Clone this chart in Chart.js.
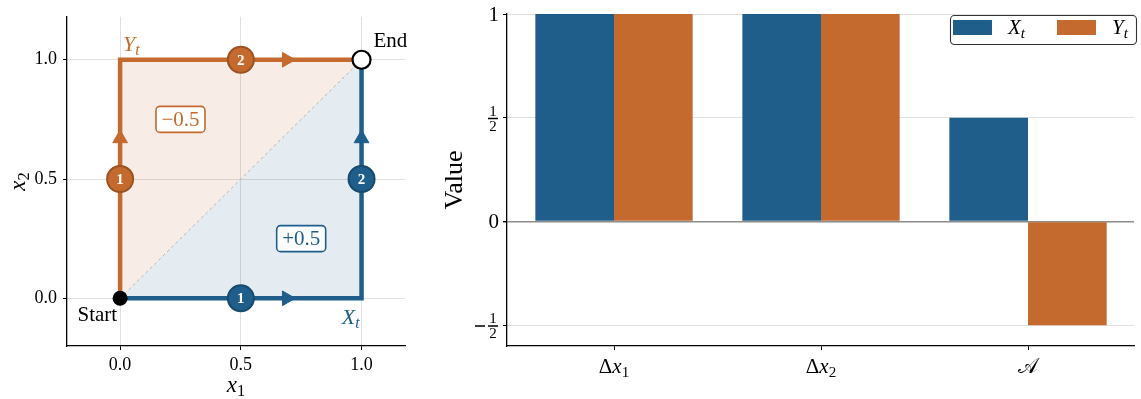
<!DOCTYPE html>
<html>
<head>
<meta charset="utf-8">
<script src="https://cdn.jsdelivr.net/npm/chart.js@4.4.1/dist/chart.umd.min.js"></script>
<style>
  html, body { margin: 0; padding: 0; background: #fff; }
  #wrap { position: relative; width: 1141px; height: 399px; overflow: hidden; }
  #pathChart { position: absolute; left: 0; top: 0; }
  #barChart { position: absolute; left: 420px; top: 0; }
</style>
</head>
<body>
<div id="wrap">
  <canvas id="pathChart" width="420" height="399"></canvas>
  <canvas id="barChart" width="721" height="399"></canvas>
</div>
<script>
// ---- data ----
const categories = ['Δx_1', 'Δx_2', '𝒜'];
const seriesNames = ['X_t', 'Y_t'];
const xtValues = [1, 1, 0.5];
const ytValues = [1, 1, -0.5];
const valueTicks = [-0.5, 0, 0.5, 1];
const pathTicks = [0, 0.5, 1];

const xtPath = [{x: 0, y: 0}, {x: 1, y: 0}, {x: 1, y: 1}];
const ytPath = [{x: 0, y: 0}, {x: 0, y: 1}, {x: 1, y: 1}];
const diagonal = [{x: 0, y: 0}, {x: 1, y: 1}];
const xtSteps = [{x: 0.5, y: 0, n: 1}, {x: 1, y: 0.5, n: 2}];
const ytSteps = [{x: 0, y: 0.5, n: 1}, {x: 0.5, y: 1, n: 2}];
const xtArrows = [{x: 0.69, y: 0, dir: 'right'}, {x: 1, y: 0.67, dir: 'up'}];
const ytArrows = [{x: 0, y: 0.67, dir: 'up'}, {x: 0.69, y: 1, dir: 'right'}];
const startPoint = [{x: 0, y: 0}];
const endPoint = [{x: 1, y: 1}];

// ---- style ----
const BLUE = '#1f5e8a';
const BLUE_DARK = '#174a6d';
const ORANGE = '#c46a2e';
const ORANGE_DARK = '#9c5222';
const SERIF = '"Liberation Serif", "DejaVu Serif", serif';
const GRID = '#e0e0e0';

// Draw a small math-like string: Latin letters italic, "_c" makes a subscript.
function mathRuns(str) {
  const chars = Array.from(str);
  const runs = [];
  for (let i = 0; i < chars.length; i++) {
    const ch = chars[i];
    if (ch === '_' && i + 1 < chars.length) {
      const nx = chars[++i];
      runs.push({t: nx, sub: true, italic: /[A-Za-z]/.test(nx)});
    } else {
      runs.push({t: ch, sub: false, italic: /[A-Za-z]/.test(ch)});
    }
  }
  return runs;
}
function runFont(r, size) {
  return (r.italic ? 'italic ' : '') + (r.sub ? size * 0.72 : size) + 'px ' + SERIF;
}
function drawMath(ctx, str, x, y, size, color, align) {
  const runs = mathRuns(str);
  ctx.save();
  ctx.fillStyle = color;
  ctx.textBaseline = 'alphabetic';
  ctx.textAlign = 'left';
  let total = 0;
  runs.forEach(r => { ctx.font = runFont(r, size); r.w = ctx.measureText(r.t).width; total += r.w; });
  let cx = align === 'center' ? x - total / 2 : align === 'right' ? x - total : x;
  const base = y + size * 0.33;
  runs.forEach(r => {
    ctx.font = runFont(r, size);
    ctx.fillText(r.t, cx, r.sub ? base + size * 0.18 : base);
    cx += r.w;
  });
  ctx.restore();
}
function roundRect(ctx, x, y, w, h, r) {
  ctx.beginPath();
  ctx.moveTo(x + r, y);
  ctx.lineTo(x + w - r, y);
  ctx.arcTo(x + w, y, x + w, y + r, r);
  ctx.lineTo(x + w, y + h - r);
  ctx.arcTo(x + w, y + h, x + w - r, y + h, r);
  ctx.lineTo(x + r, y + h);
  ctx.arcTo(x, y + h, x, y + h - r, r);
  ctx.lineTo(x, y + r);
  ctx.arcTo(x, y, x + r, y, r);
  ctx.closePath();
}
const signed = v => (v > 0 ? '+' : '−') + Math.abs(v).toFixed(1);

// ---- left: the two paths in the (x1, x2) plane ----
const pathLabels = {
  id: 'pathLabels',
  afterDatasetsDraw(chart) {
    const ctx = chart.ctx;
    const xs = chart.scales.x, ys = chart.scales.y;
    const px = v => xs.getPixelForValue(v), py = v => ys.getPixelForValue(v);

    // step numbers inside the markers
    ctx.save();
    ctx.fillStyle = '#fff';
    ctx.font = 'bold 15px ' + SERIF;
    ctx.textAlign = 'center';
    ctx.textBaseline = 'middle';
    xtSteps.concat(ytSteps).forEach(s => ctx.fillText(String(s.n), px(s.x), py(s.y) + 1));
    ctx.restore();

    // signed area boxes
    const boxes = [
      {v: ytValues[2], x: 0.25, y: 0.75, c: ORANGE},
      {v: xtValues[2], x: 0.75, y: 0.25, c: BLUE}
    ];
    boxes.forEach(b => {
      const cx = px(b.x), cy = py(b.y);
      ctx.save();
      roundRect(ctx, cx - 24.5, cy - 13, 49, 26, 4);
      ctx.fillStyle = 'rgba(255,255,255,0.92)';
      ctx.fill();
      ctx.lineWidth = 1.6;
      ctx.strokeStyle = b.c;
      ctx.stroke();
      ctx.fillStyle = b.c;
      ctx.font = '21px ' + SERIF;
      ctx.textAlign = 'center';
      ctx.textBaseline = 'middle';
      ctx.fillText(signed(b.v), cx, cy + 1);
      ctx.restore();
    });

    // Start / End and path names
    ctx.save();
    ctx.fillStyle = '#000';
    ctx.font = '21px ' + SERIF;
    ctx.textBaseline = 'middle';
    ctx.textAlign = 'right';
    ctx.fillText('Start', px(0) - 3, py(0) + 17);
    ctx.textAlign = 'left';
    ctx.fillText('End', px(1) + 12, py(1) - 18);
    ctx.restore();
    drawMath(ctx, seriesNames[1], px(0) + 3, py(1) - 16, 22, ORANGE, 'left');
    drawMath(ctx, seriesNames[0], px(1) - 2, py(0) + 18, 22, BLUE, 'right');

    // axis titles
    const a = chart.chartArea;
    drawMath(ctx, 'x_1', (a.left + a.right) / 2, 384, 23, '#000', 'center');
    ctx.save();
    ctx.translate(17, (a.top + a.bottom) / 2);
    ctx.rotate(-Math.PI / 2);
    drawMath(ctx, 'x_2', 0, 0, 23, '#000', 'center');
    ctx.restore();
  }
};

const fixedTicks = list => scale => { scale.ticks = list.map(v => ({value: v})); };

new Chart(document.getElementById('pathChart'), {
  type: 'scatter',
  data: {
    datasets: [
      {data: diagonal, showLine: true, fill: {value: 0}, backgroundColor: 'rgba(31,94,138,0.12)',
       borderWidth: 0, pointRadius: 0, order: 20},
      {data: diagonal, showLine: true, fill: {value: 1}, backgroundColor: 'rgba(196,106,46,0.12)',
       borderColor: '#b4b4b4', borderWidth: 1, borderDash: [3, 3], pointRadius: 0, order: 19},
      {data: xtPath, showLine: true, borderColor: BLUE, borderWidth: 4.5, borderJoinStyle: 'miter',
       pointRadius: 0, order: 10},
      {data: ytPath, showLine: true, borderColor: ORANGE, borderWidth: 4.5, borderJoinStyle: 'miter',
       pointRadius: 0, order: 10},
      {data: xtArrows, pointStyle: 'triangle', pointRadius: 8.5, backgroundColor: BLUE, borderColor: BLUE,
       borderWidth: 1, rotation: c => (c.raw && c.raw.dir === 'right' ? 90 : 0), order: 5},
      {data: ytArrows, pointStyle: 'triangle', pointRadius: 8.5, backgroundColor: ORANGE, borderColor: ORANGE,
       borderWidth: 1, rotation: c => (c.raw && c.raw.dir === 'right' ? 90 : 0), order: 5},
      {data: xtSteps, pointRadius: 13, backgroundColor: BLUE, borderColor: BLUE_DARK, borderWidth: 2, order: 3},
      {data: ytSteps, pointRadius: 13, backgroundColor: ORANGE, borderColor: ORANGE_DARK, borderWidth: 2, order: 3},
      {data: startPoint, pointRadius: 7.5, backgroundColor: '#000', borderColor: '#000', borderWidth: 0, order: 1},
      {data: endPoint, pointRadius: 9, backgroundColor: '#fff', borderColor: '#000', borderWidth: 2.2, order: 1}
    ]
  },
  options: {
    responsive: false,
    animation: false,
    events: [],
    layout: {padding: {left: 0, right: 15, top: 13, bottom: 0}},
    plugins: {legend: {display: false}, tooltip: {enabled: false}},
    scales: {
      x: {
        type: 'linear', min: -0.22, max: 1.18,
        afterBuildTicks: fixedTicks(pathTicks),
        afterFit: s => { s.height = 53; },
        grid: {color: GRID, lineWidth: 1, tickColor: '#000', tickLength: 4},
        border: {color: '#000', width: 1.3},
        ticks: {color: '#000', font: {family: SERIF, size: 18}, padding: 4, callback: v => v.toFixed(1), maxRotation: 0}
      },
      y: {
        type: 'linear', min: -0.2, max: 1.18,
        afterBuildTicks: fixedTicks(pathTicks),
        afterFit: s => { s.width = 67; },
        grid: {color: GRID, lineWidth: 1, tickColor: '#000', tickLength: 4},
        border: {color: '#000', width: 1.3},
        ticks: {color: '#000', font: {family: SERIF, size: 18}, padding: 6, callback: v => v.toFixed(1)}
      }
    }
  },
  plugins: [pathLabels]
});

// ---- right: component values per path ----
function drawValueTick(ctx, v, xr, y) {
  ctx.save();
  ctx.fillStyle = '#000';
  ctx.textBaseline = 'middle';
  if (Number.isInteger(v)) {
    ctx.font = '21px ' + SERIF;
    ctx.textAlign = 'right';
    ctx.fillText(String(v), xr, y + 1);
  } else {
    // stacked fraction 1/2, with a leading minus when negative
    const fx = xr - 6;
    ctx.font = '15px ' + SERIF;
    ctx.textAlign = 'center';
    ctx.fillText('1', fx, y - 6);
    ctx.fillText('2', fx, y + 9);
    ctx.fillRect(fx - 5, y, 10, 1.5);
    if (v < 0) ctx.fillRect(fx - 18, y, 10, 1.5);
  }
  ctx.restore();
}

const valueLabels = {
  id: 'valueLabels',
  afterDraw(chart) {
    const ctx = chart.ctx;
    const a = chart.chartArea;
    const xs = chart.scales.x, ys = chart.scales.y;
    valueTicks.forEach(v => drawValueTick(ctx, v, a.left - 8, ys.getPixelForValue(v)));
    categories.forEach((c, i) => drawMath(ctx, c, xs.getPixelForValue(i), 366, 21, '#000', 'center'));

    // y title
    ctx.save();
    ctx.translate(35, (a.top + a.bottom) / 2);
    ctx.rotate(-Math.PI / 2);
    ctx.fillStyle = '#000';
    ctx.font = '26px ' + SERIF;
    ctx.textAlign = 'center';
    ctx.textBaseline = 'middle';
    ctx.fillText('Value', 0, 0);
    ctx.restore();

    // legend
    const lx = a.right - 184, ly = a.top + 1, lw = 186, lh = 29;
    ctx.save();
    roundRect(ctx, lx + 0.5, ly + 0.5, lw, lh, 4);
    ctx.fillStyle = 'rgba(255,255,255,0.9)';
    ctx.fill();
    ctx.strokeStyle = '#333';
    ctx.lineWidth = 1.1;
    ctx.stroke();
    const items = [{c: BLUE, n: seriesNames[0], x: lx + 3}, {c: ORANGE, n: seriesNames[1], x: lx + 107}];
    items.forEach(it => {
      ctx.fillStyle = it.c;
      ctx.fillRect(it.x, ly + 5, 39, 15);
      drawMath(ctx, it.n, it.x + 55, ly + 12, 21, '#000', 'left');
    });
    ctx.restore();
  }
};

new Chart(document.getElementById('barChart'), {
  type: 'bar',
  data: {
    datasets: [
      {label: seriesNames[0], data: xtValues.map((v, i) => ({x: i, y: v})), backgroundColor: BLUE, borderWidth: 0},
      {label: seriesNames[1], data: ytValues.map((v, i) => ({x: i, y: v})), backgroundColor: ORANGE, borderWidth: 0}
    ]
  },
  options: {
    responsive: false,
    animation: false,
    events: [],
    layout: {padding: {left: 0, right: 7, top: 14, bottom: 0}},
    datasets: {bar: {barPercentage: 1, categoryPercentage: 0.76}},
    plugins: {legend: {display: false}, tooltip: {enabled: false}},
    scales: {
      x: {
        type: 'linear', min: -0.517, max: 2.512, offset: false,
        afterBuildTicks: fixedTicks(categories.map((c, i) => i)),
        afterFit: s => { s.height = 53; },
        grid: {display: true, offset: false, drawOnChartArea: false, tickColor: '#000', tickLength: 4},
        border: {color: '#000', width: 1.3},
        ticks: {display: false}
      },
      y: {
        min: -0.6, max: 1,
        afterBuildTicks: fixedTicks(valueTicks),
        afterFit: s => { s.width = 87; },
        grid: {
          color: c => (c.tick && c.tick.value === 0 ? '#8c8c8c' : GRID),
          lineWidth: c => (c.tick && c.tick.value === 0 ? 1.4 : 1),
          tickColor: '#000', tickLength: 4
        },
        border: {color: '#000', width: 1.3},
        ticks: {display: false}
      }
    }
  },
  plugins: [valueLabels]
});
</script>
</body>
</html>
